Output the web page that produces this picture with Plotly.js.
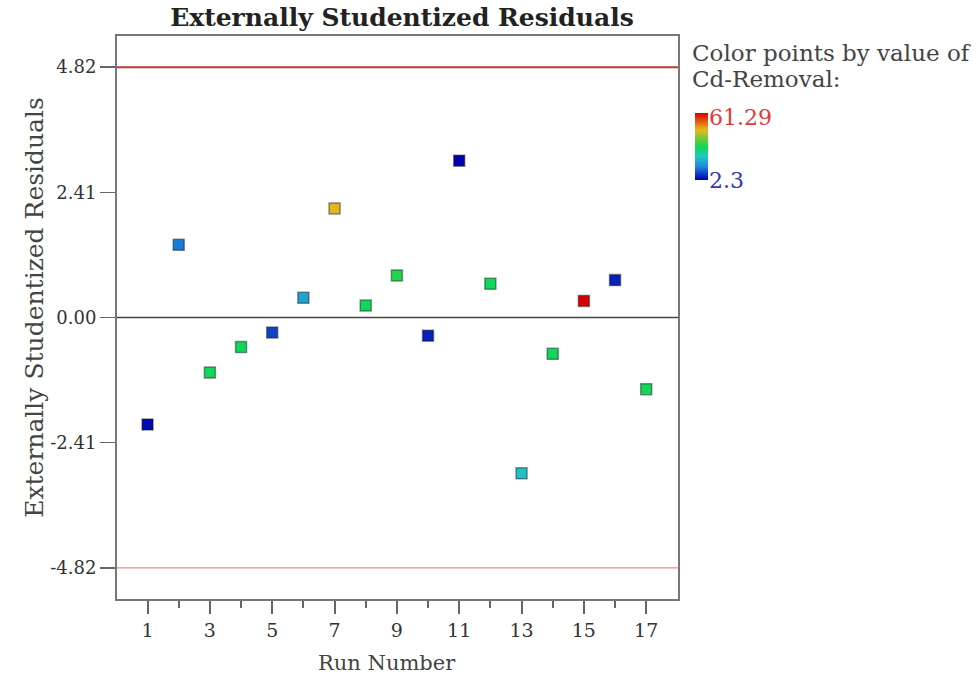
<!DOCTYPE html>
<html>
<head>
<meta charset="utf-8">
<script src="https://cdn.plot.ly/plotly-3.0.1.min.js"></script>
<style>html,body{margin:0;padding:0;background:#fff;}#chart{width:980px;height:678px;}</style>
</head>
<body>
<div id="chart"></div>
<script>
// Data
const runNumbers = [1,2,3,4,5,6,7,8,9,10,11,12,13,14,15,16,17];
const residuals = [-2.06,1.40,-1.06,-0.57,-0.29,0.38,2.10,0.23,0.81,-0.35,3.02,0.65,-3.00,-0.70,0.32,0.72,-1.38];
const cdRemoval = [3.0,13.0,31.0,31.0,8.0,18.0,46.0,31.0,33.0,5.0,2.3,31.0,22.0,31.0,61.29,5.0,31.0];
const cdMin = 2.3, cdMax = 61.29;
const yTickVals = [4.82,2.41,0,-2.41,-4.82];
const yTickText = ["4.82","2.41","0.00","-2.41","-4.82"];
const xTickVals = [1,3,5,7,9,11,13,15,17];
const xMinorVals = [2,4,6,8,10,12,14,16];
const limitUpper = 4.82, limitLower = -4.82;

const serif = "DejaVu Serif, Liberation Serif, serif";
const colorscale = [[0,'#0000b0'],[0.2,'#1e88e0'],[0.35,'#20c8c0'],[0.5,'#10d850'],[0.75,'#e8b820'],[1,'#d80000']];

const trace = {
  x: runNumbers, y: residuals, type: 'scatter', mode: 'markers',
  marker: {
    symbol: 'square', size: 11,
    color: cdRemoval, cmin: cdMin, cmax: cdMax, colorscale: colorscale,
    line: {color: 'rgba(20,20,20,0.45)', width: 1.5},
    showscale: true,
    colorbar: {
      x: 1.0305, xanchor: 'left', xref: 'paper',
      y: 0.804, yanchor: 'middle',
      thickness: 13, thicknessmode: 'pixels',
      len: 67, lenmode: 'pixels',
      showticklabels: false, ticks: '', outlinewidth: 0, xpad: 0, ypad: 0
    }
  },
  hoverinfo: 'x+y'
};

const layout = {
  width: 980, height: 678,
  margin: {l: 117, r: 302, t: 36, b: 79},
  paper_bgcolor: '#fff', plot_bgcolor: '#fff',
  showlegend: false,
  title: {text: '<b>Externally Studentized Residuals</b>', x: 0.508, xref: 'paper', xanchor: 'center',
          y: 0.974, yref: 'container', yanchor: 'middle',
          font: {family: serif, size: 25, color: '#222'}},
  xaxis: {
    range: [0.02, 18.02], tickmode: 'array', tickvals: xTickVals,
    ticks: 'outside', ticklen: 13, tickwidth: 2, tickcolor: '#666',
    minor: {tickmode: 'array', tickvals: xMinorVals, ticks: 'outside', ticklen: 7, tickwidth: 2, tickcolor: '#666', showgrid: false},
    showgrid: false, zeroline: false,
    showline: true, linecolor: '#777', linewidth: 2, mirror: true,
    tickfont: {family: serif, size: 19, color: '#333'}
  },
  yaxis: {
    range: [-5.42, 5.42], tickmode: 'array', tickvals: yTickVals, ticktext: yTickText,
    ticks: 'outside', ticklen: 15, tickwidth: 1.5, tickcolor: '#666',
    showgrid: false, zeroline: false,
    showline: true, linecolor: '#777', linewidth: 2, mirror: true,
    tickfont: {family: serif, size: 18, color: '#333'}
  },
  shapes: [
    {type: 'line', xref: 'paper', x0: 0, x1: 1, yref: 'y', y0: limitUpper, y1: limitUpper, line: {color: '#b83a3a', width: 2}, layer: 'below'},
    {type: 'line', xref: 'paper', x0: 0, x1: 1, yref: 'y', y0: limitLower, y1: limitLower, line: {color: '#f08a8a', width: 1.2}, layer: 'below'},
    {type: 'line', xref: 'paper', x0: 0, x1: 1, yref: 'y', y0: 0, y1: 0, line: {color: '#444', width: 1.5}, layer: 'below'}
  ],
  annotations: [
    {text: 'Externally Studentized Residuals', xref: 'paper', yref: 'paper', x: -0.1462, y: 0.519,
     xanchor: 'center', yanchor: 'middle', textangle: -90, showarrow: false,
     font: {family: serif, size: 25, color: '#444'}},
    {text: 'Run Number', xref: 'paper', yref: 'paper', x: 0.481, y: -0.1137,
     xanchor: 'center', yanchor: 'middle', showarrow: false,
     font: {family: serif, size: 21, color: '#444'}},
    {text: 'Color points by value of', xref: 'paper', yref: 'paper', x: 1.0214, y: 0.970,
     xanchor: 'left', yanchor: 'middle', align: 'left', showarrow: false,
     font: {family: serif, size: 23, color: '#444'}},
    {text: 'Cd-Removal:', xref: 'paper', yref: 'paper', x: 1.0214, y: 0.924,
     xanchor: 'left', yanchor: 'middle', align: 'left', showarrow: false,
     font: {family: serif, size: 23, color: '#444'}},
    {text: String(cdMax), xref: 'paper', yref: 'paper', x: 1.052, y: 0.856, xanchor: 'left', yanchor: 'middle', showarrow: false,
     font: {family: serif, size: 22, color: '#e03a3a'}},
    {text: String(cdMin), xref: 'paper', yref: 'paper', x: 1.052, y: 0.744, xanchor: 'left', yanchor: 'middle', showarrow: false,
     font: {family: serif, size: 22, color: '#3838a8'}}
  ]
};

Plotly.newPlot('chart', [trace], layout, {displayModeBar: false, staticPlot: true});
</script>
</body>
</html>
